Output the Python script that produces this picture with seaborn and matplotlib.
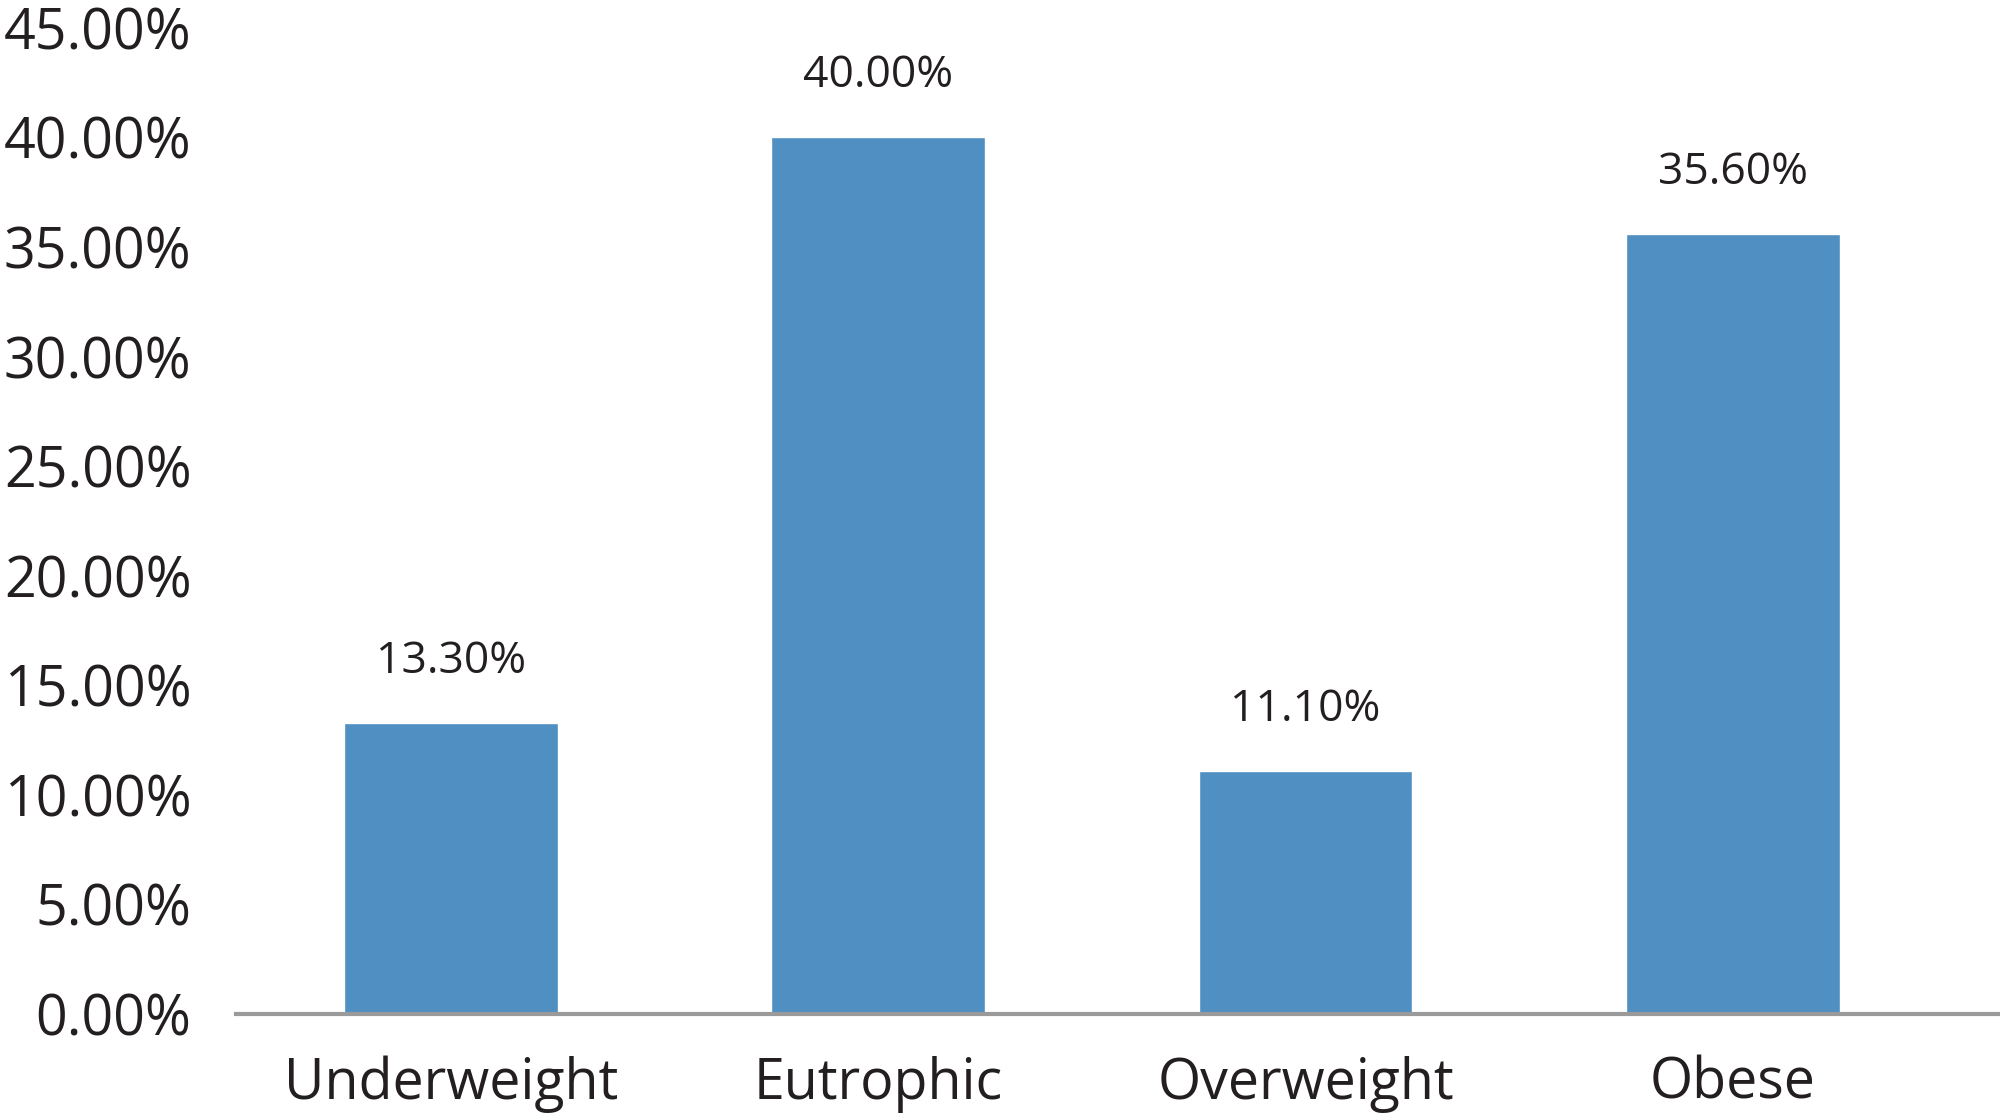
import pandas as pd
import matplotlib as mpl
import matplotlib.pyplot as plt
import seaborn as sns

categories = ['Underweight', 'Eutrophic', 'Overweight', 'Obese']
percent = [13.3, 40.0, 11.1, 35.6]
yticks = [0, 5, 10, 15, 20, 25, 30, 35, 40, 45]

sns.set_style('white')
mpl.rcParams['font.family'] = ['Open Sans', 'DejaVu Sans']
text_color = '#231F20'

df = pd.DataFrame({'Category': categories, 'Percent': percent})

fig = plt.figure(figsize=(20, 11.15), dpi=100)
fig.patch.set_facecolor('white')
ax = fig.add_axes([0.118, 0.0906, 0.882, 0.8844])

sns.barplot(x='Category', y='Percent', data=df, color='#4F8FC1',
            width=0.5, saturation=1, ax=ax)

for i, v in enumerate(percent):
    ax.annotate('%.2f%%' % v, xy=(i, v), xytext=(0, 36), textcoords='offset points',
                ha='center', va='baseline', fontsize=32, color=text_color)

ax.set_ylim(0, 45)
ax.set_xlim(-0.503, 3.625)
ax.set_yticks(yticks)
ax.set_yticklabels(['%.2f%%' % t for t in yticks])
ax.set_xlabel('')
ax.set_ylabel('')

for s in ['top', 'right', 'left']:
    ax.spines[s].set_visible(False)
ax.spines['bottom'].set_color('#9A9A9A')
ax.spines['bottom'].set_linewidth(3)
ax.tick_params(axis='both', length=0, labelsize=40, labelcolor=text_color)
ax.tick_params(axis='y', pad=32)
ax.tick_params(axis='x', pad=30)

fig.savefig('out.png', dpi=100)
